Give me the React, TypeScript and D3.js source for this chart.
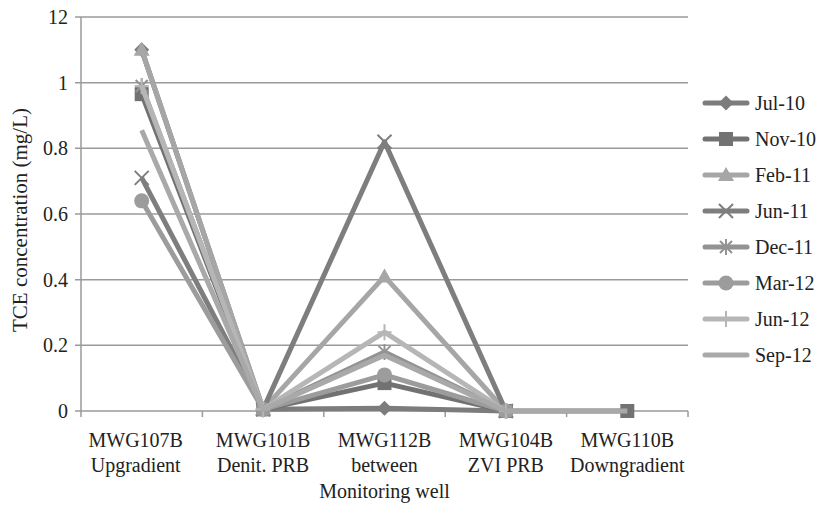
import React from "react";
import * as d3 from "d3";

const wells = ["MWG107B", "MWG101B", "MWG112B", "MWG104B", "MWG110B"];
const wellSub = ["Upgradient", "Denit. PRB", "between", "ZVI PRB", "Downgradient"];
const yTicks = [0, 0.2, 0.4, 0.6, 0.8, 1, 1.2];
const yTickLabels = ["0", "0.2", "0.4", "0.6", "0.8", "1", "12"];

const seriesNames = ["Jul-10", "Nov-10", "Feb-11", "Jun-11", "Dec-11", "Mar-12", "Jun-12", "Sep-12"];
const jul10 = [1.1, 0.005, 0.008, 0, null];
const nov10 = [0.965, 0.005, 0.085, 0, 0];
const feb11 = [1.1, 0.005, 0.41, 0, null];
const jun11 = [0.71, 0.005, 0.82, 0, null];
const dec11 = [0.99, 0.005, 0.18, 0, null];
const mar12 = [0.64, 0.005, 0.11, 0, null];
const jun12 = [0.99, 0.005, 0.24, 0, null];
const sep12 = [0.855, 0.005, 0.17, 0, 0];
const seriesValues = [jul10, nov10, feb11, jun11, dec11, mar12, jun12, sep12];
const seriesColors = ["#7c7c7c", "#727272", "#a6a6a6", "#7e7e7e", "#939393", "#9c9c9c", "#b6b6b6", "#a9a9a9"];
const seriesMarkers = ["diamond", "square", "triangle", "x", "asterisk", "circle", "plus", "none"];

const W = 825, H = 509;
const left = 81, right = 688, top = 17, bottom = 411;
const FONT = "'Liberation Serif', 'DejaVu Serif', serif";
const FS = 20;

function Marker({ type, x, y, color }: { type: string; x: number; y: number; color: string }) {
  const s = 7.5;
  switch (type) {
    case "diamond":
      return <path d={`M${x},${y - s}L${x + s},${y}L${x},${y + s}L${x - s},${y}Z`} fill={color} />;
    case "square":
      return <rect x={x - 7} y={y - 7} width={14} height={14} fill={color} />;
    case "triangle":
      return <path d={`M${x},${y - 8}L${x + 8},${y + 6}L${x - 8},${y + 6}Z`} fill={color} />;
    case "circle":
      return <circle cx={x} cy={y} r={7.5} fill={color} />;
    case "x":
      return (
        <path d={`M${x - 7},${y - 7}L${x + 7},${y + 7}M${x - 7},${y + 7}L${x + 7},${y - 7}`} stroke={color} strokeWidth={2} />
      );
    case "asterisk":
      return (
        <path
          d={`M${x - 6},${y - 6}L${x + 6},${y + 6}M${x - 6},${y + 6}L${x + 6},${y - 6}M${x},${y - 8}L${x},${y + 8}`}
          stroke={color}
          strokeWidth={2}
        />
      );
    case "plus":
      return <path d={`M${x - 7},${y}L${x + 7},${y}M${x},${y - 8}L${x},${y + 8}`} stroke={color} strokeWidth={2} />;
    default:
      return null;
  }
}

export default function App() {
  const x = d3.scaleBand<string>().domain(wells).range([left, right]);
  const y = d3.scaleLinear().domain([0, 1.2]).range([bottom, top]);
  const cx = (w: string) => (x(w) as number) + x.bandwidth() / 2;

  const line = d3
    .line<[string, number | null]>()
    .defined((d) => d[1] !== null)
    .x((d) => cx(d[0]))
    .y((d) => y(d[1] as number));

  const bounds = wells.map((w) => x(w) as number).concat([right]);

  return (
    <svg width={W} height={H} style={{ position: "absolute", left: 0, top: 0 }} fontFamily={FONT}>
      <rect width={W} height={H} fill="#fff" />
      {yTicks.map((t, i) => (
        <g key={i}>
          <line x1={left - 6} x2={right} y1={y(t)} y2={y(t)} stroke="#9a9a9a" strokeWidth={1.5} />
          <text x={68} y={y(t)} dy="0.35em" textAnchor="end" fontSize={FS} fill="#222">
            {yTickLabels[i]}
          </text>
        </g>
      ))}
      <line x1={left} x2={left} y1={top} y2={bottom} stroke="#9a9a9a" strokeWidth={1.5} />
      {bounds.map((b, i) => (
        <line key={i} x1={b} x2={b} y1={bottom} y2={bottom + 6} stroke="#9a9a9a" strokeWidth={1.5} />
      ))}
      {seriesValues.map((vals, si) => {
        const pts = wells.map((w, i) => [w, vals[i]] as [string, number | null]);
        return (
          <g key={si}>
            <path d={line(pts) || ""} fill="none" stroke={seriesColors[si]} strokeWidth={5} strokeLinejoin="round" />
            {pts
              .filter((p) => p[1] !== null)
              .map((p, i) => (
                <Marker key={i} type={seriesMarkers[si]} x={cx(p[0])} y={y(p[1] as number)} color={seriesColors[si]} />
              ))}
          </g>
        );
      })}
      {wells.map((w, i) => (
        <g key={w}>
          <text x={cx(w) - (i === 0 ? 6 : 0)} y={447} textAnchor="middle" fontSize={FS} fill="#222">
            {w}
          </text>
          <text x={cx(w) - (i === 0 ? 6 : 0)} y={472} textAnchor="middle" fontSize={FS} fill="#222">
            {wellSub[i]}
          </text>
        </g>
      ))}
      <text x={(left + right) / 2} y={498} textAnchor="middle" fontSize={FS} fill="#222">
        Monitoring well
      </text>
      <text transform="translate(27,220) rotate(-90)" textAnchor="middle" fontSize={21} fill="#222">
        TCE concentration (mg/L)
      </text>
      {seriesNames.map((n, i) => {
        const ly = 103 + i * 36;
        return (
          <g key={n}>
            <line x1={705} x2={747} y1={ly} y2={ly} stroke={seriesColors[i]} strokeWidth={5} strokeLinecap="round" />
            <Marker type={seriesMarkers[i]} x={726} y={ly} color={seriesColors[i]} />
            <text x={755} y={ly} dy="0.35em" fontSize={FS} fill="#222">
              {n}
            </text>
          </g>
        );
      })}
    </svg>
  );
}
